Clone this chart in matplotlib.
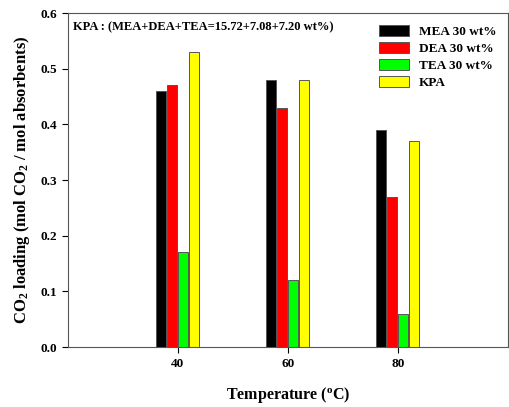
import numpy as np
import matplotlib.pyplot as plt

temps = [40, 60, 80]
series = ["MEA 30 wt%", "DEA 30 wt%", "TEA 30 wt%", "KPA"]
mea = [0.46, 0.48, 0.39]
dea = [0.47, 0.43, 0.27]
tea = [0.17, 0.12, 0.06]
kpa = [0.53, 0.48, 0.37]
colors = ["black", "red", "#00ff00", "yellow"]

plt.rcParams['font.family'] = ['Liberation Serif', 'DejaVu Serif']
plt.rcParams['font.weight'] = 'bold'
plt.rcParams['mathtext.fontset'] = 'custom'
plt.rcParams['mathtext.rm'] = 'Liberation Serif:bold'
plt.rcParams['mathtext.it'] = 'Liberation Serif:bold'
plt.rcParams['mathtext.bf'] = 'Liberation Serif:bold'

fig = plt.figure(figsize=(5.1, 4.07), dpi=100)
ax = fig.add_axes([0.133, 0.147, 0.863, 0.821])

x = np.array(temps)
offsets = [-3, -1, 1, 3]
for vals, off, c, lab in zip([mea, dea, tea, kpa], offsets, colors, series):
    ax.bar(x + off, vals, width=1.8, color=c, edgecolor="#555555", linewidth=0.7, label=lab)

ax.set_xlim(20, 100)
ax.set_ylim(0, 0.6)
ax.set_xticks(temps)
ax.set_yticks(np.arange(0, 0.61, 0.1))
ax.yaxis.set_major_formatter(plt.FormatStrFormatter('%.1f'))
ax.tick_params(labelsize=9.5, direction='out', length=4)
for s in ax.spines.values():
    s.set_color('#555555')

ax.set_xlabel("Temperature ($^o$C)", fontsize=11.5, fontweight='bold', labelpad=11)
ax.set_ylabel("CO$_2$ loading (mol CO$_2$ / mol absorbents)", fontsize=12, fontweight='bold', labelpad=6)
ax.text(0.012, 0.975, "KPA : (MEA+DEA+TEA=15.72+7.08+7.20 wt%)", transform=ax.transAxes,
        fontsize=9, fontweight='bold', va='top', ha='left')
ax.legend(loc='upper right', frameon=False, fontsize=9.5, handlelength=2.3,
          handleheight=0.9, handletextpad=0.7, labelspacing=0.3, borderaxespad=0.5)

fig.savefig("out.png", dpi=100)
